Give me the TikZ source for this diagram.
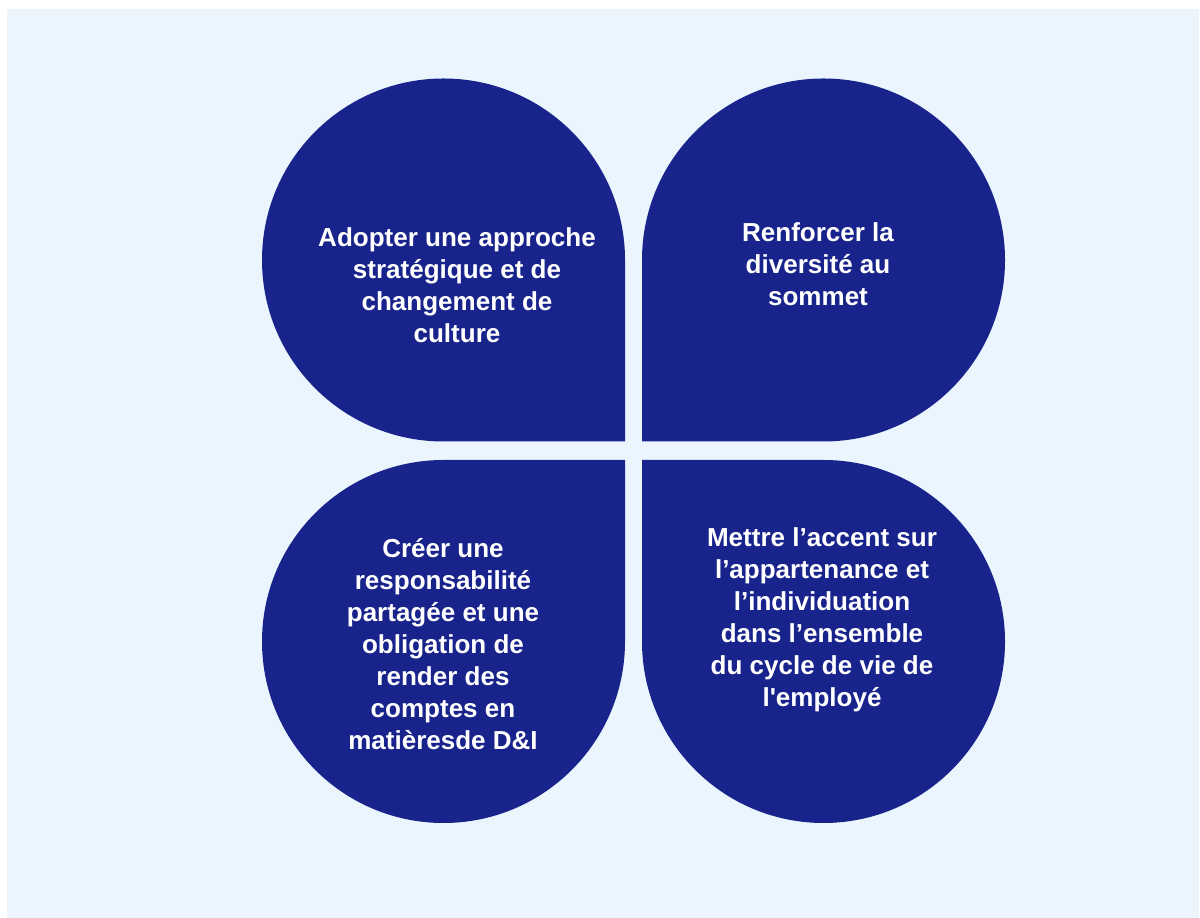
\documentclass[tikz,border=0pt]{standalone}
\usepackage{fontspec}
\newfontfamily\petalfont{Liberation Sans}[Ligatures=TeXOff]
\usepackage{tikz}
\usetikzlibrary{positioning}

\definecolor{petalblue}{RGB}{24,35,139}
\definecolor{paleback}{RGB}{234,245,254}

\tikzset{
    petal/.style={fill=petalblue, draw=none},
    petaltext/.style={text=white, align=center, inner sep=0pt,
        font=\petalfont\bfseries\fontsize{18.5}{22.8}\selectfont},
}

\begin{document}
\begin{tikzpicture}[x=0.025cm, y=0.025cm]
        \useasboundingbox (0,0) rectangle (1200,918);
        \fill[paleback] (7,0) rectangle (1199,909);
        % four petals, square corner towards the middle
        \fill[petal] (625,476.5) -- (625,658) arc[start angle=0, end angle=270, radius=181.5] -- cycle;
        \fill[petal] (642,476.5) -- (823.5,476.5) arc[start angle=-90, end angle=180, radius=181.5] -- cycle;
        \fill[petal] (625,458) -- (443.5,458) arc[start angle=90, end angle=360, radius=181.5] -- cycle;
        \fill[petal] (642,458) -- (642,276.5) arc[start angle=180, end angle=450, radius=181.5] -- cycle;
        % labels
        \node[petaltext] (strategie) at (457,633) {Adopter une approche\\strat\'egique et de\\changement de\\culture};
        \node[petaltext] (sommet) at (818,654) {Renforcer la\\diversit\'e au\\sommet};
        \node[petaltext] (comptes) at (443,274) {Cr\'eer une\\responsabilit\'e\\partag\'ee et une\\obligation de\\render des\\comptes en\\mati\`eresde D\&I};
        \node[petaltext] (employe) at (822,298) {Mettre l’accent sur\\l’appartenance et\\l’individuation\\dans l’ensemble\\du cycle de vie de\\l'employ\'e};
\end{tikzpicture}
\end{document}
